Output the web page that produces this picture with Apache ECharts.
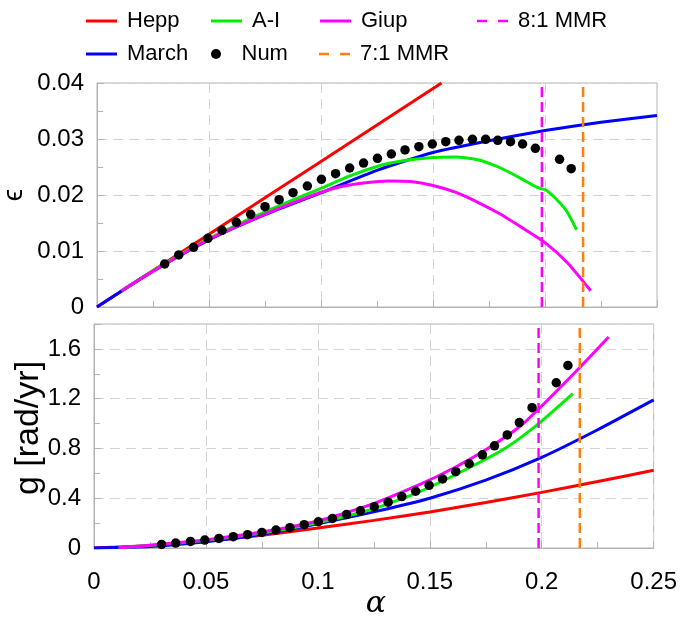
<!DOCTYPE html>
<html>
<head>
<meta charset="utf-8">
<script src="https://cdn.jsdelivr.net/npm/echarts@6/dist/echarts.min.js"></script>
<style>
  html, body { margin: 0; padding: 0; background: #fff; }
  #chart { width: 680px; height: 617px; }
</style>
</head>
<body>
<div id="chart"></div>
<script>
/* ---- data ---- */
// resonances
var mmr81 = 0.1986;
var mmr71 = 0.2170;

// numerical points (same alpha for both panels)
var numAlpha = [0.0302, 0.0365, 0.0431, 0.0495, 0.0558, 0.0622, 0.0686, 0.0750, 0.0813, 0.0875,
                0.0939, 0.1002, 0.1065, 0.1128, 0.1190, 0.1252, 0.1314, 0.1375, 0.1437, 0.1497,
                0.1557, 0.1616, 0.1676, 0.1735, 0.1789, 0.1846, 0.1900, 0.1957, 0.2065, 0.2117];
var numEps = [0.00768, 0.00929, 0.01066, 0.01226, 0.01369, 0.01512, 0.01655, 0.01792, 0.01917, 0.02042,
              0.02161, 0.02280, 0.02380, 0.02482, 0.02571, 0.02655, 0.02732, 0.02804, 0.02863, 0.02911,
              0.02952, 0.02976, 0.02994, 0.02994, 0.02976, 0.02952, 0.02911, 0.02833, 0.02637, 0.02470];
var numG = [0.029, 0.040, 0.053, 0.064, 0.077, 0.091, 0.107, 0.125, 0.144, 0.163,
            0.187, 0.211, 0.237, 0.269, 0.299, 0.332, 0.368, 0.413, 0.456, 0.504,
            0.555, 0.613, 0.677, 0.749, 0.821, 0.909, 1.008, 1.128, 1.328, 1.467];

// eccentricity panel
var heppAlphaE = [0, 0.05, 0.1, 0.1538];
var heppEps = [0, 0.013, 0.026, 0.04];
var marchAlpha = [0, 0.025, 0.05, 0.075, 0.1, 0.125, 0.15, 0.175, 0.2, 0.225, 0.25];
var marchEps = [0, 0.0064, 0.0120, 0.0165, 0.0204, 0.0244, 0.0276, 0.0297, 0.0315, 0.0330, 0.0342];
var aiAlphaE = [0.011, 0.025, 0.05, 0.075, 0.1, 0.1129, 0.125, 0.1367, 0.15, 0.16, 0.17, 0.1754,
                0.1814, 0.19, 0.1963, 0.2007, 0.2052, 0.2097, 0.2141];
var aiEps = [0.0029, 0.0065, 0.0122, 0.0170, 0.0212, 0.0234, 0.0251, 0.0261, 0.0267, 0.0268, 0.0263, 0.0256,
             0.0246, 0.0228, 0.0214, 0.0208, 0.0192, 0.0171, 0.0138];
var giupAlphaE = [0.011, 0.025, 0.05, 0.075, 0.09, 0.1, 0.11, 0.12, 0.13, 0.14, 0.15, 0.16, 0.17,
                  0.18, 0.19, 0.2, 0.21, 0.2204];
var giupEps = [0.0029, 0.0064, 0.0121, 0.0166, 0.0190, 0.0205, 0.0216, 0.0222, 0.0225, 0.0224, 0.0217,
               0.0205, 0.0187, 0.0166, 0.0141, 0.0115, 0.0079, 0.0029];

// frequency panel
var heppAlphaG = [0, 0.025, 0.05, 0.075, 0.1, 0.125, 0.15, 0.175, 0.2, 0.225, 0.25];
var heppG = [0, 0.02, 0.056, 0.103, 0.16, 0.222, 0.29, 0.366, 0.447, 0.534, 0.625];
var marchG = [0, 0.012, 0.05, 0.11, 0.195, 0.29, 0.40, 0.545, 0.728, 0.95, 1.19];
var aiAlphaG = [0.011, 0.03, 0.05, 0.075, 0.1, 0.125, 0.1453, 0.1676, 0.1839, 0.1985, 0.2139];
var aiG = [0.002, 0.028, 0.062, 0.12, 0.203, 0.315, 0.451, 0.645, 0.803, 0.997, 1.24];
var giupAlphaG = [0.011, 0.03, 0.05, 0.075, 0.1, 0.123, 0.1453, 0.1601, 0.175, 0.1898, 0.1985, 0.217, 0.2299];
var giupG = [0.002, 0.03, 0.066, 0.128, 0.217, 0.344, 0.509, 0.637, 0.789, 0.97, 1.115, 1.451, 1.696];

/* ---- helpers ---- */
var FONT = 'Liberation Sans, Arial, sans-serif';
var GRAY = '#b4b4b4';
var ICON_SOLID = 'path://M0,0H31V3H0Z';
var ICON_DASH = 'path://M0,0H10V2.5H0Z M21,0H31V2.5H21Z';

function pairs(xs, ys) {
  var out = [];
  for (var i = 0; i < xs.length; i++) out.push([xs[i], ys[i]]);
  return out;
}

function lineSeries(name, color, data, ax) {
  return {
    name: name, type: 'line', xAxisIndex: ax, yAxisIndex: ax,
    data: data, symbol: 'none', smooth: 0.2, z: 3,
    lineStyle: { color: color, width: 3 }, itemStyle: { color: color }
  };
}

function numSeries(data, ax) {
  return {
    name: 'Num', type: 'scatter', xAxisIndex: ax, yAxisIndex: ax, z: 4,
    data: data, symbol: 'circle', symbolSize: 9.5,
    itemStyle: { color: '#000', opacity: 1 }
  };
}

function mmrSeries(name, color, x, ymax, ax) {
  return {
    name: name, type: 'line', xAxisIndex: ax, yAxisIndex: ax,
    data: [[x, 0], [x, ymax]], symbol: 'none', z: 5,
    lineStyle: { color: color, width: 2.5, type: [10, 5] }, itemStyle: { color: color }
  };
}

function xAxisCfg(grid, showLabel) {
  return {
    type: 'value', gridIndex: grid, min: 0, max: 0.25, interval: 0.05,
    axisLine: { show: true, onZero: false, lineStyle: { color: GRAY } },
    axisTick: { show: true, inside: true, length: 7, lineStyle: { color: GRAY } },
    minorTick: { show: true, splitNumber: 2, length: 6, lineStyle: { color: GRAY } },
    splitLine: { show: true, lineStyle: { color: '#d4d4d4', type: [10, 6] } },
    axisLabel: {
      show: showLabel, color: '#000', fontSize: 24, fontFamily: FONT, margin: 22,
      formatter: function (v) { return v === 0 ? '0' : String(+v.toFixed(2)); }
    }
  };
}

function yAxisCfg(grid, max, interval, digits) {
  return {
    type: 'value', gridIndex: grid, min: 0, max: max, interval: interval,
    axisLine: { show: true, onZero: false, lineStyle: { color: GRAY } },
    axisTick: { show: true, inside: true, length: 7, lineStyle: { color: GRAY } },
    minorTick: { show: true, splitNumber: 2, length: 6, lineStyle: { color: GRAY } },
    splitLine: { show: true, lineStyle: { color: '#d4d4d4', type: [10, 6] } },
    axisLabel: {
      color: '#000', fontSize: 24, fontFamily: FONT, margin: 13, showMaxLabel: grid === 0,
      formatter: function (v) { return v === 0 ? '0' : v.toFixed(digits); }
    }
  };
}

function legendItem(name, left, top, icon, h) {
  return {
    data: [name], left: left, top: top, selectedMode: false,
    icon: icon, itemWidth: 31, itemHeight: h || 14, itemGap: 0,
    textStyle: { fontSize: 22, fontFamily: FONT, color: '#000', padding: [0, 0, 0, 5] }
  };
}

/* ---- chart ---- */
var myChart = echarts.init(document.getElementById('chart'), null, { renderer: 'canvas' });

var option = {
  backgroundColor: '#fff',
  animation: false,
  grid: [
    { left: 97, top: 83, width: 560, height: 224, show: true, borderColor: GRAY, borderWidth: 1 },
    { left: 94, top: 324, width: 561, height: 224, show: true, borderColor: GRAY, borderWidth: 1 }
  ],
  legend: [
    legendItem('Hepp', 81, 5, ICON_SOLID),
    legendItem('March', 81, 38, ICON_SOLID),
    legendItem('A-I', 206, 5, ICON_SOLID),
    legendItem('Num', 206, 38, 'circle', 10),
    legendItem('Giup', 315, 5, ICON_SOLID),
    legendItem('7:1 MMR', 314, 38, ICON_DASH),
    legendItem('8:1 MMR', 472, 5, ICON_DASH)
  ],
  graphic: [
    { type: 'text', x: 14, y: 195, rotation: Math.PI / 2,
      style: { text: 'ϵ', font: '28px ' + FONT, fill: '#000', align: 'center', verticalAlign: 'middle' } },
    { type: 'text', x: 29, y: 428, rotation: Math.PI / 2,
      style: { text: 'g [rad/yr]', font: '34px ' + FONT, fill: '#000', align: 'center', verticalAlign: 'middle' } },
    { type: 'text', x: 376, y: 604,
      style: { text: 'α', font: 'italic 30px DejaVu Serif, serif', fill: '#000', align: 'center', verticalAlign: 'middle' } }
  ],
  xAxis: [xAxisCfg(0, false), xAxisCfg(1, true)],
  yAxis: [yAxisCfg(0, 0.04, 0.01, 2), yAxisCfg(1, 1.8, 0.4, 1)],
  series: [
    lineSeries('Hepp', '#ff0000', pairs(heppAlphaE, heppEps), 0),
    lineSeries('March', '#0000ff', pairs(marchAlpha, marchEps), 0),
    lineSeries('A-I', '#00ee00', pairs(aiAlphaE, aiEps), 0),
    lineSeries('Giup', '#ff00ff', pairs(giupAlphaE, giupEps), 0),
    numSeries(pairs(numAlpha, numEps), 0),
    mmrSeries('8:1 MMR', '#ff00ff', mmr81, 0.04, 0),
    mmrSeries('7:1 MMR', '#ff7f0e', mmr71, 0.04, 0),

    lineSeries('Hepp', '#ff0000', pairs(heppAlphaG, heppG), 1),
    lineSeries('March', '#0000ff', pairs(heppAlphaG, marchG), 1),
    lineSeries('A-I', '#00ee00', pairs(aiAlphaG, aiG), 1),
    lineSeries('Giup', '#ff00ff', pairs(giupAlphaG, giupG), 1),
    numSeries(pairs(numAlpha, numG), 1),
    mmrSeries('8:1 MMR', '#ff00ff', mmr81, 1.8, 1),
    mmrSeries('7:1 MMR', '#ff7f0e', mmr71, 1.8, 1)
  ]
};

myChart.setOption(option);
</script>
</body>
</html>
